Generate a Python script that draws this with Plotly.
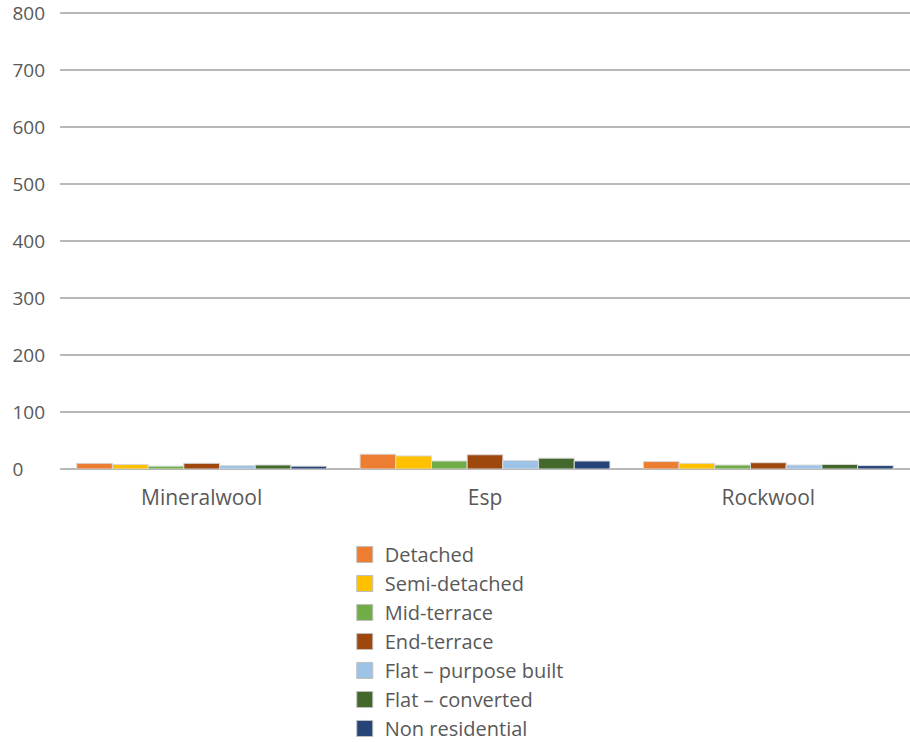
import plotly.graph_objects as go

categories = ["Mineralwool", "Esp", "Rockwool"]
series_names = ["Detached", "Semi-detached", "Mid-terrace", "End-terrace",
                "Flat \u2013 purpose built", "Flat \u2013 converted", "Non residential"]
detached = [10, 26, 13]
semi_detached = [8, 23, 10]
mid_terrace = [5, 14, 7]
end_terrace = [10, 25, 11]
flat_purpose = [6, 15, 7]
flat_converted = [7, 19, 8]
non_residential = [5, 14, 6]
series_values = [detached, semi_detached, mid_terrace, end_terrace,
                 flat_purpose, flat_converted, non_residential]
colors = ["#ED7D31", "#FFC000", "#70AD47", "#9E480E", "#9DC3E6", "#43682B", "#264478"]
y_ticks = [0, 100, 200, 300, 400, 500, 600, 700, 800]

FONT = "Open Sans"
TXT = "#595959"

fig = go.Figure()
for name, vals, col in zip(series_names, series_values, colors):
    fig.add_trace(go.Bar(
        x=categories, y=vals, name=name, showlegend=False,
        marker=dict(color=col, line=dict(color="#d9d9d9", width=1)),
    ))
for name, col in zip(series_names, colors):
    fig.add_trace(go.Scatter(
        x=[None], y=[None], mode="markers", name=name, legendgroup=name,
        marker=dict(symbol="square", size=16, color=col,
                    line=dict(color="#bfbfbf", width=1)),
    ))

width_pad = max(len(str(t)) for t in y_ticks)
tick_text = [str(t) + "\u2007" * (width_pad - len(str(t))) for t in y_ticks]

fig.update_layout(
    width=910, height=742,
    margin=dict(l=60, r=0, t=12, b=273, autoexpand=False),
    paper_bgcolor="white", plot_bgcolor="white",
    barmode="group", bargap=0.118, bargroupgap=0,
    font=dict(family=FONT, size=19, color=TXT),
    xaxis=dict(showgrid=False, showline=False, zeroline=False,
               tickfont=dict(size=21, color=TXT), ticklabelstandoff=14),
    yaxis=dict(range=[0, 802], tickvals=y_ticks, ticktext=tick_text,
               showgrid=True, gridcolor="#b8b8b8", gridwidth=2,
               zeroline=True, zerolinecolor="#b8b8b8", zerolinewidth=2,
               showline=False, ticklabelstandoff=14, ticklabeloverflow="allow",
               tickfont=dict(size=19, color=TXT)),
    legend=dict(orientation="v", x=0.335, xanchor="left",
                y=0.279, yref="container", yanchor="top",
                font=dict(size=20, color=TXT), tracegroupgap=0,
                bgcolor="rgba(0,0,0,0)"),
)

fig.write_html("out.html")
